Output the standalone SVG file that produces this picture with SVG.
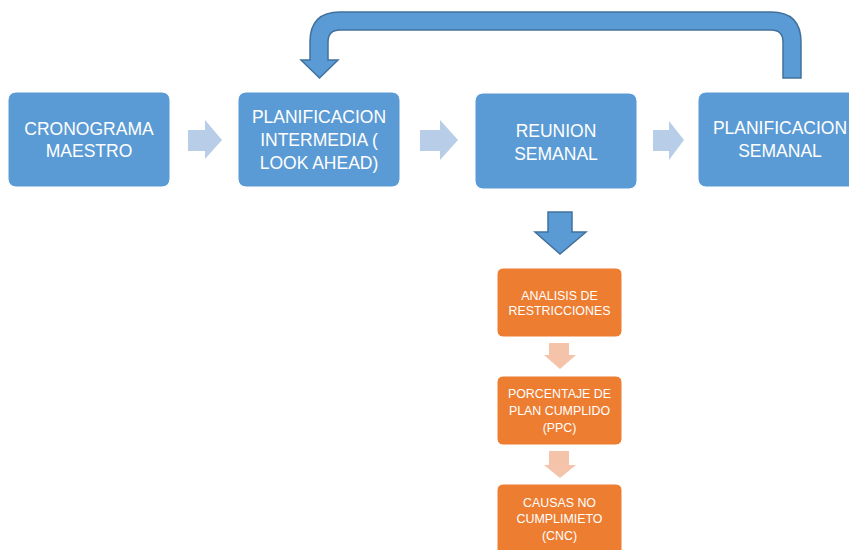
<svg xmlns="http://www.w3.org/2000/svg" width="849" height="550" viewBox="0 0 849 550">
  <style>
    .box { fill: #5B9BD5; stroke: #FFFFFF; stroke-width: 1; }
    .obox { fill: #ED7D31; stroke: #FFFFFF; stroke-width: 1; }
    .lbl { font-family: "Liberation Sans", Arial, sans-serif; font-size: 17.5px; fill: #FFFFFF; text-anchor: middle; }
    .olbl { font-family: "Liberation Sans", Arial, sans-serif; font-size: 12.4px; fill: #FFFFFF; text-anchor: middle; }
    .harrow { fill: #B7CDE8; }
    .oarrow { fill: #F5C3AA; }
    .barrow { fill: #5B9BD5; stroke: #41719C; stroke-width: 1.5; stroke-linejoin: miter; }
  </style>

  <rect width="849" height="550" fill="#FFFFFF"/>

  <!-- connectors -->
  <g id="connectors">
    <!-- horizontal block arrows between the main steps -->
    <polygon class="harrow" points="188,130 205,130 205,120 222,140 205,159 205,151 188,151"/>
    <polygon class="harrow" points="420,130 440,130 440,120 458,140 440,160 440,151 420,151"/>
    <polygon class="harrow" points="653,130 669,130 669,121 684,140 669,160 669,151 653,151"/>
    <!-- U-turn feedback arrow -->
    <path class="barrow" d="M801,78 L801,42 Q801,12 771,12 L340,12 Q310,12 310,42 L310,60 L301,60 L319.5,78 L338,60 L328,60 L328,42 Q328,30 340,30 L771,30 Q783,30 783,42 L783,78 Z"/>
    <!-- downward arrow to the analysis steps -->
    <polygon class="barrow" points="548,212 572,212 572,232 586,232 560,254 535,232 548,232"/>
    <!-- pale orange arrows between the orange steps -->
    <polygon class="oarrow" points="549,343 569,343 569,355 576,355 560,369 544,355 549,355"/>
    <polygon class="oarrow" points="549,451 569,451 569,465 576,465 560,478 544,465 549,465"/>
  </g>

  <g id="cronograma">
    <rect class="box" x="8" y="92" width="162" height="95" rx="8"/>
    <text class="lbl" x="89" y="135">CRONOGRAMA</text>
    <text class="lbl" x="89" y="157">MAESTRO</text>
  </g>

  <g id="intermedia">
    <rect class="box" x="238" y="92" width="162" height="95" rx="8"/>
    <text class="lbl" x="319" y="123">PLANIFICACION</text>
    <text class="lbl" x="319" y="146">INTERMEDIA (</text>
    <text class="lbl" x="319" y="169">LOOK AHEAD)</text>
  </g>

  <g id="reunion">
    <rect class="box" x="475" y="93" width="162" height="96" rx="8"/>
    <text class="lbl" x="556" y="137">REUNION</text>
    <text class="lbl" x="556" y="160">SEMANAL</text>
  </g>

  <g id="semanal">
    <rect class="box" x="698" y="92" width="162" height="95" rx="8"/>
    <text class="lbl" x="780" y="134">PLANIFICACION</text>
    <text class="lbl" x="780" y="157">SEMANAL</text>
  </g>

  <g id="restricciones">
    <rect class="obox" x="497" y="268" width="125" height="69" rx="6"/>
    <text class="olbl" x="559.5" y="300">ANALISIS DE</text>
    <text class="olbl" x="559.5" y="315">RESTRICCIONES</text>
  </g>

  <g id="ppc">
    <rect class="obox" x="497" y="376" width="125" height="69" rx="6"/>
    <text class="olbl" x="559.5" y="398">PORCENTAJE DE</text>
    <text class="olbl" x="559.5" y="415">PLAN CUMPLIDO</text>
    <text class="olbl" x="559.5" y="432">(PPC)</text>
  </g>

  <g id="cnc">
    <rect class="obox" x="497" y="484" width="125" height="75" rx="6"/>
    <text class="olbl" x="559.5" y="507">CAUSAS NO</text>
    <text class="olbl" x="559.5" y="523">CUMPLIMIETO</text>
    <text class="olbl" x="559.5" y="540">(CNC)</text>
  </g>
</svg>
